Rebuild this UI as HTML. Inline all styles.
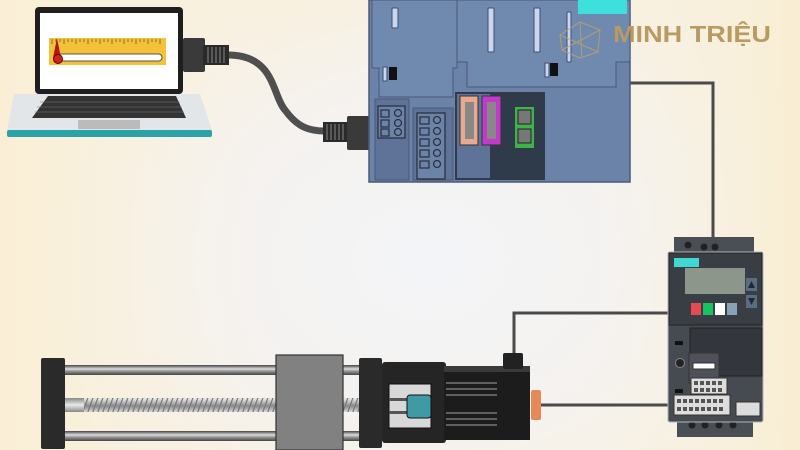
<!DOCTYPE html>
<html><head><meta charset="utf-8"><style>
html,body{margin:0;padding:0;width:800px;height:450px;overflow:hidden}
body{background:radial-gradient(ellipse 420px 330px at 430px 260px,#f3f4f8 0%,#f5f2ee 55%,#faf0d8 100%)}
svg{position:absolute;left:0;top:0}
</style></head><body>
<svg width="800" height="450" viewBox="0 0 800 450" xmlns="http://www.w3.org/2000/svg">
<defs>
<linearGradient id="bg2" x1="0" x2="1"><stop offset="0" stop-color="#faefd5" stop-opacity="1"/><stop offset="0.35" stop-color="#f6f3ef" stop-opacity="0"/><stop offset="0.7" stop-color="#f5f4f4" stop-opacity="0"/><stop offset="1" stop-color="#f9eed2"/></linearGradient>
<linearGradient id="rail" x1="0" y1="0" x2="0" y2="1"><stop offset="0" stop-color="#444"/><stop offset="0.4" stop-color="#ddd"/><stop offset="0.6" stop-color="#999"/><stop offset="1" stop-color="#444"/></linearGradient>
<linearGradient id="scr" x1="0" y1="0" x2="0" y2="1"><stop offset="0" stop-color="#888"/><stop offset="0.5" stop-color="#e8e8e8"/><stop offset="1" stop-color="#888"/></linearGradient>
<pattern id="thr" width="5" height="14" patternUnits="userSpaceOnUse"><rect width="5" height="14" fill="url(#scr)"/><line x1="0" y1="14" x2="5" y2="0" stroke="#777" stroke-width="1.2"/></pattern>
</defs>
<rect width="800" height="450" fill="url(#bg2)"/>

<!-- wires -->
<g fill="none" stroke="#4a4a4a" stroke-width="3">
<path d="M630 83 H713 V240"/>
<path d="M668 313 H514 V356"/>
<path d="M540 405 H668"/>
</g>

<!-- laptop -->
<rect x="35" y="7" width="148" height="87" rx="4" fill="#1f1f1f"/>
<rect x="40" y="13" width="138" height="76" fill="#fff"/>
<rect x="49" y="38" width="117" height="27" fill="#f4c238"/>
<g stroke="#6a5a20" stroke-width="0.8">
<path d="M52 39v5M56 39v3M60 39v3M64 39v5M68 39v3M72 39v3M76 39v5M80 39v3M84 39v3M88 39v5M92 39v3M96 39v3M100 39v5M104 39v3M108 39v3M112 39v5M116 39v3M120 39v3M124 39v5M128 39v3M132 39v3M136 39v5M140 39v3M144 39v3M148 39v5M152 39v3M156 39v3M160 39v5"/>
</g>
<rect x="56" y="54" width="106" height="7" rx="3.5" fill="#fff" stroke="#555" stroke-width="1"/>
<path d="M57 38 L61 58 L53 58 Z" fill="#b01818"/>
<circle cx="58" cy="59" r="4.5" fill="#d02020" stroke="#600" stroke-width="1"/>
<path d="M14 94 H200 L212 130 H7 Z" fill="#e3e6e9"/>
<rect x="7" y="130" width="205" height="7" rx="2" fill="#2aa2a8"/>
<path d="M48 96 H176 L186 118 H32 Z" fill="#333"/>
<g stroke="#777" stroke-width="0.6"><path d="M40 102H180M37 107H182M35 112H184"/></g>
<rect x="78" y="120" width="62" height="9" rx="1" fill="#bbb"/>
<!-- plugs & cable -->
<path d="M228 55 C275 55 272 95 285 110 C298 128 310 131 325 131" fill="none" stroke="#4f4f4f" stroke-width="7"/>
<rect x="183" y="38" width="22" height="34" rx="2" fill="#3a3a3a"/>
<rect x="203" y="45" width="26" height="20" fill="#2a2a2a"/>
<g stroke="#888" stroke-width="1"><path d="M208 47v16M212 47v16M216 47v16M220 47v16M224 47v16"/></g>
<rect x="323" y="122" width="26" height="20" fill="#2a2a2a"/>
<g stroke="#888" stroke-width="1"><path d="M327 124v16M331 124v16M335 124v16M339 124v16M343 124v16"/></g>
<rect x="347" y="116" width="23" height="34" rx="2" fill="#3a3a3a"/>

<!-- PLC -->
<rect x="369" y="0" width="261" height="182" fill="#6c83a9" stroke="#4a5a76" stroke-width="1.5"/>
<path d="M372 0 V68 H379 V97 H453 V68 H457 V0 Z" fill="#7089ae" stroke="#4a5a76" stroke-width="1"/>
<path d="M457 0 V62 H467 V87 H616 V62 H630 V0 Z" fill="#7089ae" stroke="#4a5a76" stroke-width="1"/>
<rect x="578" y="0" width="49" height="14" fill="#3de0dc"/>
<g fill="#c9d6ee" stroke="#3b4f78" stroke-width="1">
<rect x="392" y="8" width="6" height="20" rx="1"/>
<rect x="488" y="8" width="6" height="44" rx="1"/>
<rect x="534" y="8" width="6" height="44" rx="1"/>
<rect x="567" y="12" width="4" height="50" rx="1"/>
<rect x="383" y="67" width="4" height="14"/><rect x="545" y="63" width="4" height="14"/>
</g>
<rect x="389" y="67" width="8" height="13" fill="#111"/><rect x="550" y="63" width="8" height="13" fill="#111"/>
<rect x="375" y="99" width="34" height="81" fill="#5f7398" stroke="#4a5a76"/>
<rect x="413" y="108" width="40" height="72" fill="#5f7398" stroke="#4a5a76"/>
<g fill="none" stroke="#2b3240" stroke-width="1.3">
<rect x="378" y="106" width="27" height="32" fill="#6c83a9"/>
<rect x="417" y="113" width="28" height="66" fill="#6c83a9"/>
<rect x="460" y="153" width="28" height="25" fill="#6c83a9"/>
<path d="M381 110h8v7h-8zM381 120h8v7h-8zM381 129h8v7h-8z"/>
<circle cx="398" cy="113" r="3.5"/><circle cx="398" cy="123" r="3.5"/><circle cx="398" cy="132" r="3.5"/>
<path d="M420 117h9v7h-9zM420 128h9v7h-9zM420 139h9v7h-9zM420 150h9v7h-9zM420 161h9v7h-9z"/>
<circle cx="437" cy="120" r="3.5"/><circle cx="437" cy="131" r="3.5"/><circle cx="437" cy="142" r="3.5"/><circle cx="437" cy="153" r="3.5"/><circle cx="437" cy="164" r="3.5"/>
</g>
<rect x="455" y="92" width="90" height="88" fill="#2f3a4b"/>
<rect x="457" y="94" width="33" height="84" fill="#5f7398"/>
<rect x="460" y="96" width="18" height="49" fill="#e8a98e" stroke="#333"/>
<rect x="465" y="102" width="9" height="37" fill="#888"/>
<rect x="482" y="96" width="19" height="49" fill="#c23ac8" stroke="#333"/>
<rect x="487" y="102" width="9" height="37" fill="#888"/>
<rect x="515" y="107" width="19" height="41" fill="#3fb24c"/>
<rect x="518" y="110" width="13" height="14" fill="#777" stroke="#222"/>
<rect x="518" y="129" width="13" height="14" fill="#777" stroke="#222"/>

<!-- logo -->
<g stroke="#c2a26a" stroke-width="1" fill="none" opacity="0.8"><path d="M560 35 L580 22 L600 30 L598 52 L580 58 L562 50 Z M580 22 L582 58 M560 35 L598 52 M600 30 L562 50"/></g>
<text x="613" y="42" font-family="Liberation Sans, sans-serif" font-weight="bold" font-size="23" fill="#b89a62" textLength="158" lengthAdjust="spacingAndGlyphs">MINH TRIỆU</text>

<!-- inverter -->
<rect x="674" y="237" width="80" height="17" fill="#4a4e55"/>
<g fill="#222"><circle cx="688" cy="245" r="3.5"/><circle cx="704" cy="247" r="3.5"/><circle cx="715" cy="247" r="3.5"/></g>
<rect x="677" y="420" width="76" height="17" fill="#4a4e55"/>
<g fill="#222"><circle cx="692" cy="425" r="3.5"/><circle cx="705" cy="425" r="3.5"/><circle cx="719" cy="425" r="3.5"/><circle cx="733" cy="425" r="3.5"/></g>
<rect x="668" y="252" width="95" height="170" rx="2" fill="#464a51" stroke="#b0b4ba" stroke-width="1"/>
<rect x="669" y="253" width="93" height="72" fill="#393d44" stroke="#222"/>
<rect x="674" y="258" width="25" height="9" fill="#40d8d4"/>
<rect x="685" y="268" width="60" height="26" fill="#8c968a"/>
<rect x="746" y="278" width="11" height="13" fill="#5a6c80"/><rect x="746" y="295" width="11" height="13" fill="#5a6c80"/>
<path d="M748 288 L751.5 281 L755 288Z M748 298 L751.5 305 L755 298Z" fill="#1c2a3c"/>
<rect x="691" y="303" width="10" height="12" fill="#e84a55"/>
<rect x="703" y="303" width="10" height="12" fill="#17c464"/>
<rect x="715" y="303" width="10" height="12" fill="#fff"/>
<rect x="727" y="303" width="10" height="12" fill="#8aa2b6"/>
<rect x="690" y="328" width="72" height="48" fill="#33373d" stroke="#222"/>
<rect x="689" y="353" width="30" height="30" fill="#4e5258" stroke="#333"/>
<rect x="693" y="363" width="22" height="6" fill="#fff" stroke="#333"/>
<rect x="675" y="341" width="8" height="4" fill="#111"/><rect x="675" y="389" width="8" height="4" fill="#111"/>
<circle cx="680" cy="363" r="4.5" fill="#222" stroke="#888"/>
<rect x="691" y="378" width="36" height="16" fill="#ddd" stroke="#333"/>
<rect x="674" y="395" width="56" height="20" fill="#ddd" stroke="#333"/>
<g fill="#555"><path d="M694 381h4v4h-4zM700 381h4v4h-4zM706 381h4v4h-4zM712 381h4v4h-4zM718 381h4v4h-4zM694 388h4v4h-4zM700 388h4v4h-4zM706 388h4v4h-4zM712 388h4v4h-4zM718 388h4v4h-4z"/>
<path d="M677 399h4v4h-4zM683 399h4v4h-4zM689 399h4v4h-4zM695 399h4v4h-4zM701 399h4v4h-4zM707 399h4v4h-4zM713 399h4v4h-4zM719 399h4v4h-4zM677 407h4v4h-4zM683 407h4v4h-4zM689 407h4v4h-4zM695 407h4v4h-4zM701 407h4v4h-4zM707 407h4v4h-4zM713 407h4v4h-4zM719 407h4v4h-4z"/></g>
<rect x="736" y="402" width="24" height="14" fill="#ddd" stroke="#333"/>

<!-- linear actuator -->
<rect x="60" y="365" width="302" height="10" fill="url(#rail)"/>
<rect x="60" y="431" width="302" height="10" fill="url(#rail)"/>
<rect x="83" y="398" width="280" height="14" fill="url(#thr)"/>
<rect x="65" y="398" width="19" height="14" fill="url(#scr)"/>
<rect x="41" y="358" width="24" height="91" rx="2" fill="#2a2a2a"/>
<rect x="276" y="355" width="67" height="95" fill="#818181" stroke="#333" stroke-width="1.2"/>
<rect x="359" y="358" width="23" height="90" rx="2" fill="#2a2a2a"/>
<rect x="382" y="362" width="64" height="81" rx="3" fill="#252525"/>
<rect x="389" y="384" width="42" height="44" fill="#d8d8d8" stroke="#111"/>
<rect x="389" y="398" width="42" height="3" fill="#555"/><rect x="389" y="411" width="42" height="3" fill="#555"/>
<rect x="407" y="395" width="24" height="23" rx="3" fill="#3f9aa6" stroke="#111"/>
<rect x="444" y="366" width="86" height="74" fill="#1c1c1c"/>
<rect x="444" y="366" width="86" height="6" fill="#3a3a3a"/>
<g stroke="#777" stroke-width="1.5"><path d="M446 383H497M446 389H497M446 395H497M446 413H497M446 419H497M446 425H497"/></g>
<rect x="503" y="353" width="20" height="16" rx="2" fill="#222"/>
<rect x="531" y="390" width="10" height="30" rx="2" fill="#e5885a"/>
</svg>
</body></html>
